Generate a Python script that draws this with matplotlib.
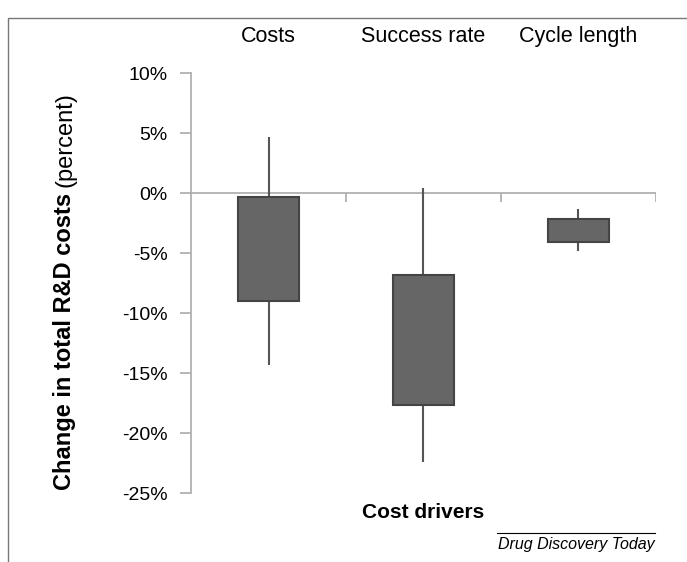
import matplotlib.pyplot as plt
from matplotlib.lines import Line2D
from matplotlib.patches import Rectangle

plt.rcParams['font.family'] = ['Liberation Sans', 'DejaVu Sans']

# Data (percent change in total R&D costs)
categories = ["Costs", "Success rate", "Cycle length"]
box_high = [-0.3, -6.8, -2.2]
box_low = [-9.0, -17.7, -4.1]
whisker_high = [4.7, 0.4, -1.3]
whisker_low = [-14.3, -22.4, -4.8]
yticks = [10, 5, 0, -5, -10, -15, -20, -25]

W, H = 687, 562
fig = plt.figure(figsize=(W / 100, H / 100), dpi=100)

def fx(px):
    return px / W

def fy(py):
    return 1 - py / H

ax = fig.add_axes([fx(191), fy(493), fx(656) - fx(191), fy(73) - fy(493)])

# Outer frame (runs off the right and bottom edges)
fig.add_artist(Rectangle((fx(8), -0.2), 1.5, fy(18) + 0.2, transform=fig.transFigure,
                         fill=False, edgecolor='#777777', lw=1.0, clip_on=False))

xs = [i + 0.5 for i in range(len(categories))]
bar_w = 0.39

# whiskers
ax.vlines(xs, whisker_low, whisker_high, color='#555555', lw=1.5, zorder=2)
# boxes
heights = [h - l for h, l in zip(box_high, box_low)]
ax.bar(xs, heights, bottom=box_low, width=bar_w, color='#666666',
       edgecolor='#444444', linewidth=1.5, zorder=3)

# zero line and category separators
ax.axhline(0, color='#aaaaaa', lw=1.2, zorder=1)
ax.vlines(range(1, len(categories) + 1), -0.75, 0, color='#aaaaaa', lw=1.2, zorder=1)

ax.set_xlim(0, len(categories))
ax.set_ylim(-25, 10)
ax.set_yticks(yticks)
ax.set_yticklabels([f"{v}%" for v in yticks], fontsize=14)
ax.tick_params(axis='y', length=8, color='#aaaaaa', width=1.2, pad=9)

ax.xaxis.tick_top()
ax.set_xticks(xs)
ax.set_xticklabels(categories, fontsize=15.5)
ax.tick_params(axis='x', length=0, pad=19)

for s in ['top', 'right', 'bottom']:
    ax.spines[s].set_visible(False)
ax.spines['left'].set_color('#aaaaaa')
ax.spines['left'].set_linewidth(1.2)

pos = ax.get_position()
fig.text(pos.x0 + pos.width / 2, fy(512), "Cost drivers", ha='center', va='center',
         fontsize=15, fontweight='bold')

# y label: bold part then regular part
lab1 = fig.text(fx(65), fy(490), "Change in total R&D costs", rotation=90, ha='center',
                va='bottom', fontsize=17, fontweight='bold')
fig.canvas.draw()
bb = lab1.get_window_extent()
fig.text(fx(65), (bb.y1 + 6) / H, "(percent)", rotation=90, ha='center', va='bottom',
         fontsize=17)

# source
fig.add_artist(Line2D([fx(497), fx(655)], [fy(533), fy(533)], color='black', lw=0.8))
fig.text(fx(655), fy(545), "Drug Discovery Today", ha='right', va='center',
         fontsize=11.5, style='italic')

fig.savefig("out.png", dpi=100)
